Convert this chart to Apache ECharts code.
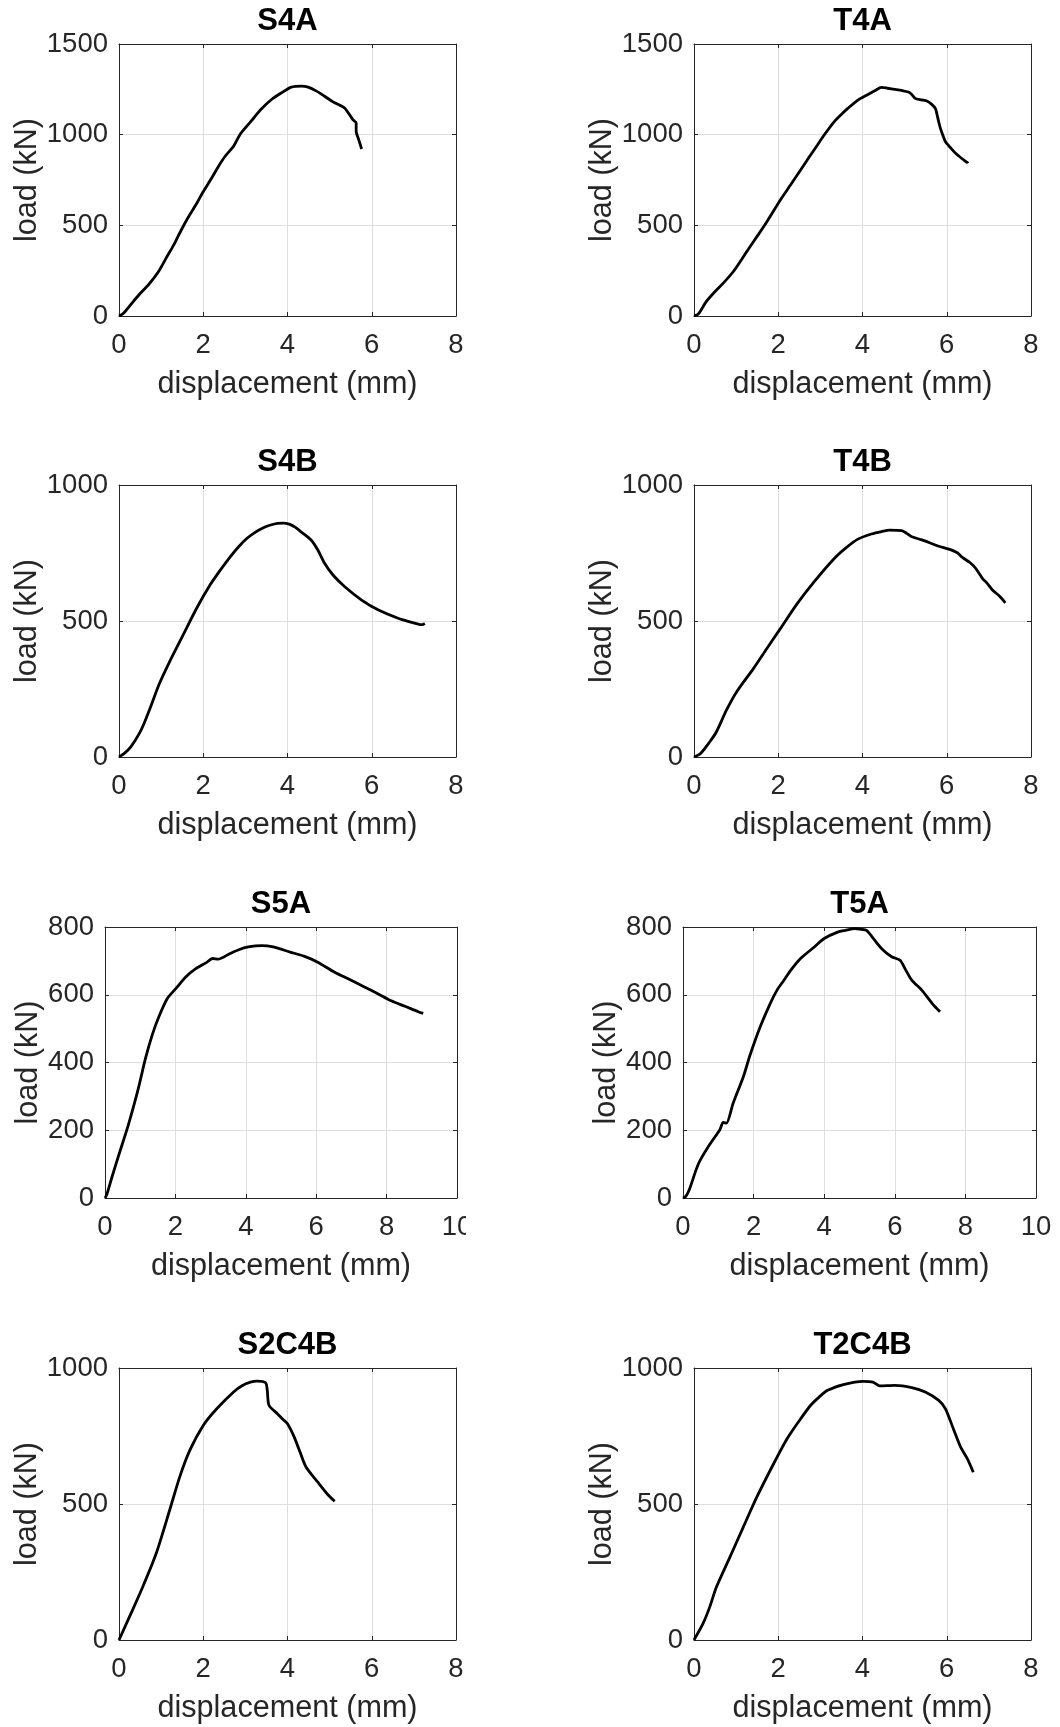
<!DOCTYPE html>
<html>
<head>
<meta charset="utf-8">
<script src="https://cdn.jsdelivr.net/npm/echarts@6/dist/echarts.min.js"></script>
<style>
  html, body { margin: 0; padding: 0; background: #ffffff; }
  #chart { width: 1060px; height: 1727px; }
</style>
</head>
<body>
<div id="chart"></div>
<script>
// ---- Data (displacement mm, load kN) ----
const S4A = [[0,0],[0.1,14],[0.24,52],[0.47,116],[0.71,175],[0.94,245],[1.14,328],[1.3,392],[1.42,448],[1.61,531],[1.85,623],[1.98,678],[2.2,761],[2.36,825],[2.52,881],[2.72,936],[2.87,1000],[3.03,1046],[3.2,1092],[3.35,1135],[3.62,1194],[3.86,1231],[4.09,1262],[4.33,1268],[4.49,1262],[4.69,1240],[4.88,1212],[5.08,1181],[5.35,1148],[5.47,1111],[5.55,1083],[5.63,1065],[5.63,1019],[5.69,973],[5.76,921]];
const T4A = [[0,0],[0.1,10],[0.29,79],[0.5,135],[0.69,180],[0.93,244],[1.13,312],[1.33,382],[1.53,450],[1.73,520],[2.05,640],[2.29,722],[2.53,805],[2.73,875],[2.93,943],[3.09,998],[3.33,1072],[3.49,1110],[3.65,1145],[3.89,1191],[4.13,1222],[4.3,1243],[4.45,1261],[4.6,1256],[4.77,1250],[4.93,1244],[5.09,1235],[5.17,1222],[5.25,1200],[5.4,1192],[5.53,1186],[5.63,1170],[5.73,1145],[5.77,1110],[5.81,1070],[5.85,1035],[5.91,995],[5.97,961],[6.1,925],[6.21,897],[6.35,870],[6.49,846],[6.5,842]];
const S4B = [[0,0],[0.14,15],[0.28,37],[0.48,86],[0.6,125],[0.72,172],[0.96,270],[1.2,350],[1.52,448],[1.84,546],[2.16,632],[2.4,686],[2.64,736],[2.84,773],[3.04,804],[3.24,827],[3.44,844],[3.6,853],[3.76,859],[3.9,860],[4.04,856],[4.18,845],[4.32,828],[4.56,798],[4.72,761],[4.88,712],[5.08,669],[5.36,626],[5.76,577],[6.16,540],[6.64,509],[6.9,497],[7.12,488],[7.2,487],[7.26,491]];
const T4B = [[0,0],[0.15,12],[0.37,55],[0.53,92],[0.77,172],[1.01,239],[1.41,325],[1.73,399],[2.05,472],[2.45,564],[2.85,644],[3.33,730],[3.6,768],[3.89,801],[4.21,820],[4.45,829],[4.65,834],[4.93,832],[5.05,822],[5.17,810],[5.41,798],[5.81,775],[6.05,764],[6.25,751],[6.37,734],[6.55,715],[6.69,693],[6.85,656],[6.95,640],[7.09,613],[7.25,592],[7.39,567]];
const S5A = [[0,0],[0.05,10],[0.19,59],[0.38,123],[0.62,201],[0.81,270],[0.96,329],[1.15,412],[1.34,481],[1.53,535],[1.77,589],[2.01,618],[2.3,653],[2.58,677],[2.87,694],[3.06,707],[3.21,705],[3.54,721],[3.8,733],[4.07,741],[4.45,745],[4.78,741],[5.26,726],[5.65,714],[6.03,697],[6.51,667],[6.79,653],[7.37,623],[7.75,603],[8.13,582],[8.52,566],[8.9,550],[9.04,545]];
const T5A = [[0,0],[0.08,5],[0.18,25],[0.37,83],[0.47,108],[0.75,157],[1.04,201],[1.14,223],[1.23,221],[1.42,280],[1.71,358],[1.9,422],[2.19,506],[2.47,574],[2.66,613],[2.86,643],[3.05,672],[3.33,707],[3.72,741],[4.0,766],[4.38,785],[4.6,790],[4.86,795],[5.05,793],[5.2,790],[5.4,765],[5.63,736],[5.91,712],[6.15,702],[6.3,675],[6.48,643],[6.77,613],[7.06,574],[7.28,550]];
const S2C4B = [[0,0],[0.28,96],[0.56,194],[0.88,317],[1.2,476],[1.44,599],[1.68,697],[2.0,789],[2.32,850],[2.72,912],[2.92,935],[3.12,948],[3.28,952],[3.48,946],[3.52,918],[3.56,863],[3.76,832],[3.9,810],[4.0,795],[4.16,746],[4.3,690],[4.44,636],[4.72,580],[4.96,534],[5.12,510]];
const T2C4B = [[0,0],[0.21,59],[0.37,120],[0.53,194],[0.85,304],[1.17,415],[1.49,525],[1.89,648],[2.21,740],[2.53,813],[2.77,863],[2.97,893],[3.17,918],[3.57,940],[4.01,951],[4.25,948],[4.41,934],[4.77,936],[5.17,928],[5.49,912],[5.81,881],[5.97,850],[6.17,771],[6.33,709],[6.49,666],[6.63,617]];

const titles = ['S4A','T4A','S4B','T4B','S5A','T5A','S2C4B','T2C4B'];
const curves = [S4A, T4A, S4B, T4B, S5A, T5A, S2C4B, T2C4B];
const xMax = [8, 8, 8, 8, 10, 10, 8, 8];
const xStep = [2, 2, 2, 2, 2, 2, 2, 2];
const yMax = [1500, 1500, 1000, 1000, 800, 800, 1000, 1000];
const yStep = [500, 500, 500, 500, 200, 200, 500, 500];
const xName = 'displacement (mm)';
const yName = 'load (kN)';

// ---- Layout ----
const boxes = [
  {left: 119, top: 44,   width: 337, height: 272},
  {left: 694, top: 44,   width: 337, height: 272},
  {left: 119, top: 485,  width: 337, height: 272},
  {left: 694, top: 485,  width: 337, height: 272},
  {left: 105, top: 927,  width: 352, height: 271},
  {left: 683, top: 927,  width: 353, height: 271},
  {left: 119, top: 1368, width: 337, height: 272},
  {left: 694, top: 1368, width: 337, height: 272}
];
const yNameGap = [76, 76, 76, 76, 61, 61, 76, 76];

const FONT = '"Liberation Sans", Arial, Helvetica, sans-serif';
const AX = '#262626';
const GRIDC = '#dedede';
const TICK_FS = 27.5, NAME_FS = 30.6, TITLE_FS = 31;

const grid = [], xAxis = [], yAxis = [], series = [], title = [];
const plain = v => String(v);
boxes.forEach((b, i) => {
  grid.push({left: b.left, top: b.top, width: b.width, height: b.height, containLabel: false});
  title.push({
    text: titles[i], left: b.left + b.width / 2, top: b.top - 38, textAlign: 'center', padding: 0,
    textStyle: {fontFamily: FONT, fontSize: TITLE_FS, fontWeight: 'bold', color: '#000'}
  });
  xAxis.push({
    type: 'value', gridIndex: i, position: 'bottom', min: 0, max: xMax[i], interval: xStep[i],
    axisLine: {show: true, onZero: false, lineStyle: {color: AX, width: 1}},
    axisTick: {show: true, inside: true, length: 4, lineStyle: {color: AX}},
    axisLabel: {fontFamily: FONT, fontSize: TICK_FS, color: AX, margin: 15.5, formatter: plain},
    splitLine: {show: true, lineStyle: {color: GRIDC, width: 1}},
    name: xName, nameLocation: 'middle', nameGap: 53,
    nameTextStyle: {fontFamily: FONT, fontSize: NAME_FS, color: AX}
  });
  xAxis.push({
    type: 'value', gridIndex: i, position: 'top', min: 0, max: xMax[i], interval: xStep[i],
    axisLine: {show: true, onZero: false, lineStyle: {color: AX, width: 1}},
    axisTick: {show: true, inside: true, length: 4, lineStyle: {color: AX}},
    axisLabel: {show: false}, splitLine: {show: false}
  });
  yAxis.push({
    type: 'value', gridIndex: i, position: 'left', min: 0, max: yMax[i], interval: yStep[i],
    axisLine: {show: true, onZero: false, lineStyle: {color: AX, width: 1}},
    axisTick: {show: true, inside: true, length: 4, lineStyle: {color: AX}},
    axisLabel: {fontFamily: FONT, fontSize: TICK_FS, color: AX, margin: 11, formatter: plain},
    splitLine: {show: true, lineStyle: {color: GRIDC, width: 1}},
    name: yName, nameLocation: 'middle', nameGap: yNameGap[i],
    nameTextStyle: {fontFamily: FONT, fontSize: NAME_FS, color: AX}
  });
  yAxis.push({
    type: 'value', gridIndex: i, position: 'right', min: 0, max: yMax[i], interval: yStep[i],
    axisLine: {show: true, onZero: false, lineStyle: {color: AX, width: 1}},
    axisTick: {show: true, inside: true, length: 4, lineStyle: {color: AX}},
    axisLabel: {show: false}, splitLine: {show: false}
  });
  series.push({
    type: 'line', name: titles[i], xAxisIndex: 2 * i, yAxisIndex: 2 * i,
    data: curves[i], showSymbol: false, symbol: 'none', smooth: 0.25,
    lineStyle: {color: '#000000', width: 2.8}, z: 5, clip: true
  });
});

const chart = echarts.init(document.getElementById('chart'), null, {renderer: 'canvas'});
chart.setOption({
  animation: false,
  backgroundColor: '#ffffff',
  textStyle: {fontFamily: FONT},
  title: title,
  grid: grid,
  xAxis: xAxis,
  yAxis: yAxis,
  series: series,
  graphic: [
    // the reference's S5A panel is cropped through its "10" tick label
    {type: 'rect', left: 466, top: 1203, shape: {width: 55, height: 45}, style: {fill: '#ffffff'}, z: 100}
  ]
});
</script>
</body>
</html>
